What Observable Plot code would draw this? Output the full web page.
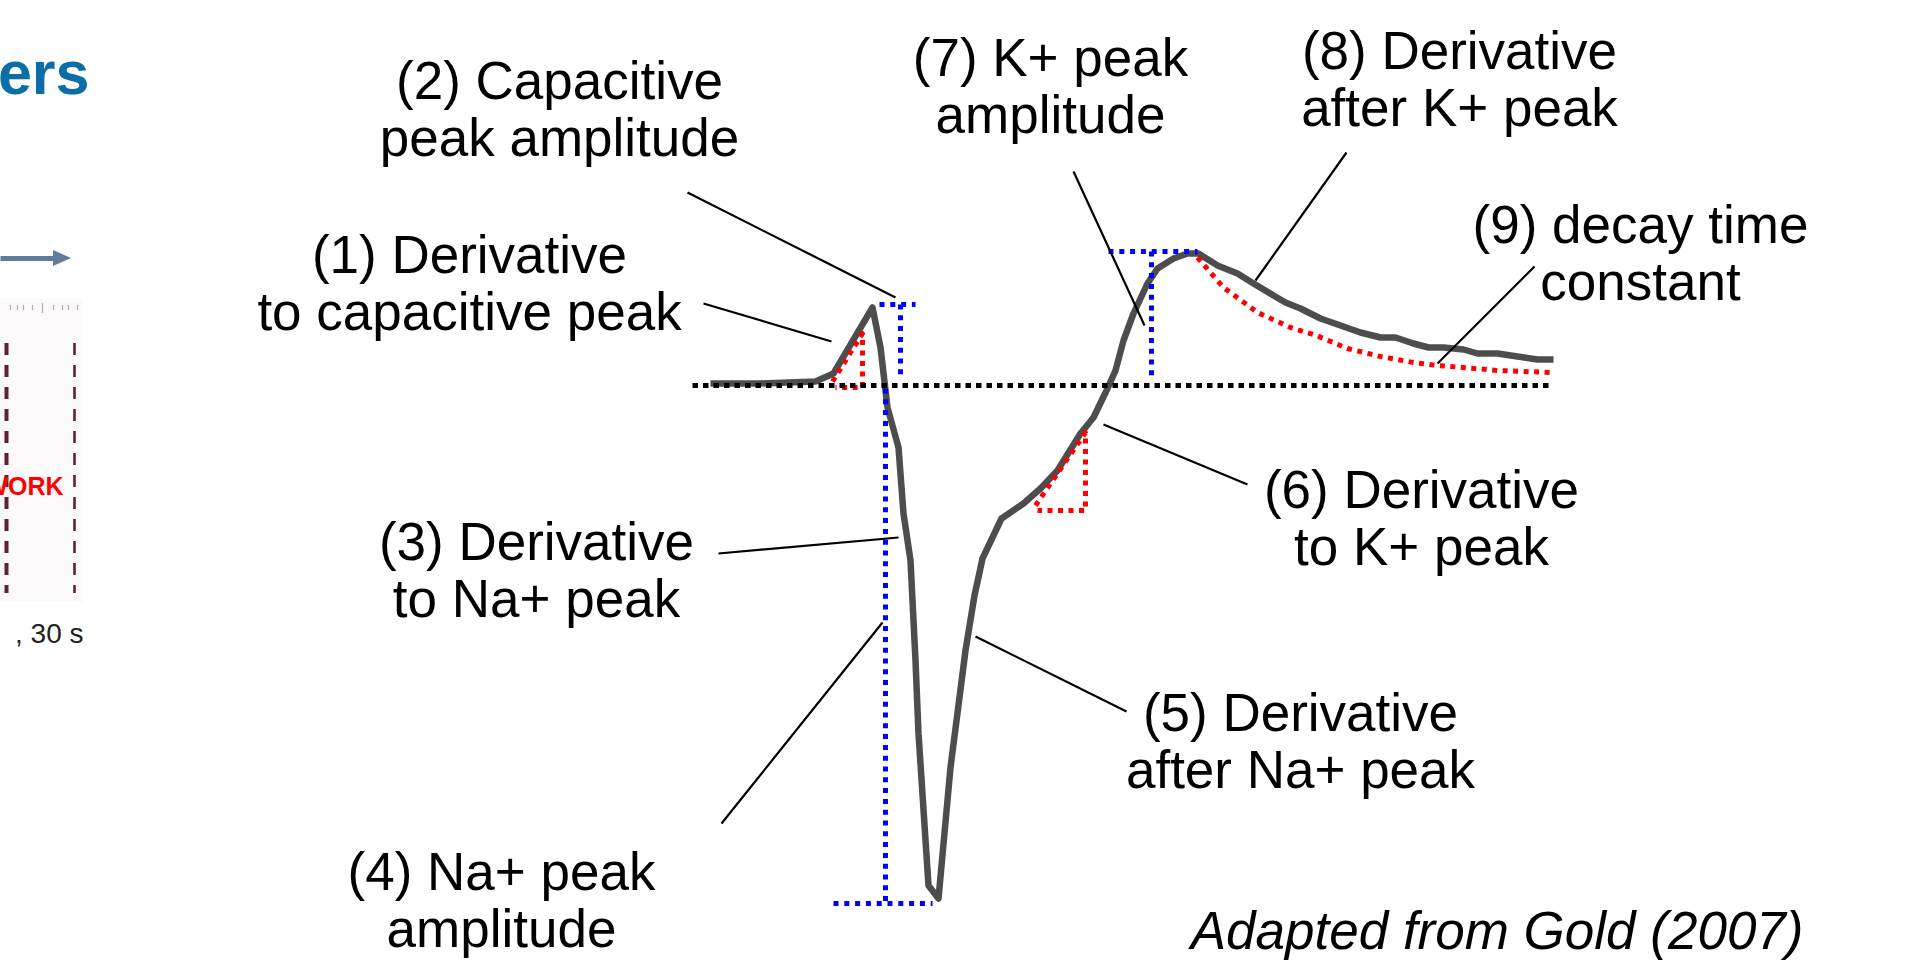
<!DOCTYPE html>
<html>
<head>
<meta charset="utf-8">
<script src="https://cdn.jsdelivr.net/npm/d3@7"></script>
<script src="https://cdn.jsdelivr.net/npm/@observablehq/plot@0.6"></script>
<style>
html, body { margin: 0; padding: 0; background: #fff; }
#chart svg { display: block; }
</style>
</head>
<body>
<div id="chart"></div>
<script>
// ---------- Data (time in ms, current in pA) ----------
const traceTime = [0.00, 0.50, 1.05, 1.23, 1.62, 1.70, 1.77, 1.88, 1.93, 2.00, 2.05, 2.08, 2.18, 2.28,
  2.40, 2.55, 2.64, 2.72, 2.91, 3.13, 3.30, 3.47, 3.70, 3.83, 3.97, 4.05, 4.13, 4.23, 4.37, 4.47, 4.63,
  4.77, 4.88, 5.07, 5.27, 5.43, 5.63, 5.75, 5.90, 6.10, 6.30, 6.50, 6.70, 6.85, 7.03, 7.18, 7.33, 7.53,
  7.67, 7.87, 8.07, 8.27, 8.43];
const traceCurrent = [4, 4, 8, 24, 156, 76, -44, -124, -256, -350, -550, -696, -1000, -1026,
  -764, -530, -420, -346, -266, -236, -206, -170, -96, -64, -6, 30, 90, 144, 204, 234, 254,
  264, 264, 240, 224, 204, 180, 166, 154, 134, 120, 106, 96, 96, 84, 76, 76, 72,
  64, 64, 58, 52, 52];

// exponential decay fit after the K+ peak
const fitTime = [4.87, 5.13, 5.47, 5.80, 6.06, 6.37, 6.70, 7.03, 7.27, 7.53, 7.87, 8.42];
const fitCurrent = [256, 196, 146, 116, 100, 74, 58, 46, 40, 36, 30, 26];

// slope triangles (derivatives)
const capSlopeTime = [1.22, 1.52, 1.52, 1.25];
const capSlopeCurrent = [8, 104, -4, -4];
const kSlopeTime = [3.25, 3.75, 3.75, 3.27];
const kSlopeCurrent = [-240, -94, -250, -250];

// amplitude markers (blue): segment start / end
const ampT1 = [1.69, 1.90, 1.75, 1.23, 3.98, 4.41];
const ampI1 = [162, 162, -6, -1036, 268, 268];
const ampT2 = [2.05, 1.90, 1.75, 2.22, 4.87, 4.41];
const ampI2 = [162, 16, -1034, -1036, 268, 20];

// zero-current baseline
const baselineTime = [-0.18, 8.38];
const baselineCurrent = [0, 0];

// labels
const labelText = [
  "(1) Derivative\nto capacitive peak",
  "(2) Capacitive\npeak amplitude",
  "(3) Derivative\nto Na+ peak",
  "(4) Na+ peak\namplitude",
  "(5) Derivative\nafter Na+ peak",
  "(6) Derivative\nto K+ peak",
  "(7) K+ peak\namplitude",
  "(8) Derivative\nafter K+ peak",
  "(9) decay time\nconstant"
];
const labelTime = [-2.41, -1.51, -1.74, -2.09, 5.90, 7.11, 3.40, 7.49, 9.30];
const labelCurrent = [306, 654, -268, -928, -610, -164, 700, 714, 366];

// leader lines from labels to features
const leaderT1 = [-0.07, -0.23, 0.08, 0.11, 2.65, 3.93, 3.63, 6.36, 8.24];
const leaderI1 = [164, 386, -336, -876, -502, -78, 428, 466, 238];
const leaderT2 = [1.21, 1.85, 1.88, 1.72, 4.16, 5.37, 4.34, 5.45, 7.27];
const leaderI2 = [88, 176, -304, -474, -652, -198, 120, 210, 44];

const caption = "Adapted from Gold (2007)";

// fragment of the neighbouring slide content (cropped on the left)
const fragTitle = "ers";
const fragTitleAt = [-6.21, 670];
const fragArrowTime = [-7.10, -6.56];
const fragArrowCurrent = [254, 254];
const fragHeadTime = [-6.57, -6.39];
const fragHeadLow = [238, 254];
const fragHeadHigh = [270, 254];
const fragPanelTime = [-7.10, -6.27];
const fragPanelCurrent = [174, -434];
const fragTickTime = [-7.00, -6.93, -6.87, -6.78, -6.68, -6.57, -6.48, -6.42, -6.33];
const fragTickTop = [160, 160, 160, 160, 164, 160, 160, 160, 160];
const fragTickBottom = [150, 150, 150, 150, 144, 150, 150, 150, 150];
const fragRasterTime = [-7.04, -6.36];
const fragRasterTop = [84, 84];
const fragRasterBottom = [-416, -416];
const fragWord = "WORK";
const fragWordAt = [-6.47, -184];
const fragNote = ", 30 s";
const fragNoteAt = [-6.27, -476];

// ---------- Build tables ----------
const trace = traceTime.map((t, k) => ({t, i: traceCurrent[k]}));
const fit = fitTime.map((t, k) => ({t, i: fitCurrent[k]}));
const capSlope = capSlopeTime.map((t, k) => ({t, i: capSlopeCurrent[k]}));
const kSlope = kSlopeTime.map((t, k) => ({t, i: kSlopeCurrent[k]}));
const amps = ampT1.map((t, k) => ({t1: t, i1: ampI1[k], t2: ampT2[k], i2: ampI2[k]}));
const baseline = baselineTime.map((t, k) => ({t, i: baselineCurrent[k]}));
const labels = labelText.map((s, k) => ({s, t: labelTime[k], i: labelCurrent[k]}));
const leaders = leaderT1.map((t, k) => ({t1: t, i1: leaderI1[k], t2: leaderT2[k], i2: leaderI2[k]}));
const head = fragHeadTime.map((t, k) => ({t, lo: fragHeadLow[k], hi: fragHeadHigh[k]}));
const ticks = fragTickTime.map((t, k) => ({t, a: fragTickTop[k], b: fragTickBottom[k]}));
const rasters = fragRasterTime.map((t, k) => ({t, a: fragRasterTop[k], b: fragRasterBottom[k], w: k === 0 ? 4 : 2.6}));

const FONT = "'Liberation Sans', Arial, Helvetica, sans-serif";

const chart = Plot.plot({
  width: 1913,
  height: 967,
  margin: 0,
  x: {domain: [-7.10, 12.03], axis: null},
  y: {domain: [-1164, 770], axis: null},
  style: {background: "#ffffff", fontFamily: FONT},
  marks: [
    // left fragment
    Plot.rect([0], {x1: () => fragPanelTime[0], x2: () => fragPanelTime[1], y1: () => fragPanelCurrent[0], y2: () => fragPanelCurrent[1], fill: "#fbf9f9"}),
    Plot.ruleX(ticks, {x: "t", y1: "a", y2: "b", stroke: "#b5b0b0", strokeWidth: 1.2}),
    Plot.ruleX(rasters, {x: "t", y1: "a", y2: "b", stroke: "#5a2434", strokeWidth: "w", strokeDasharray: "12,10"}),
    Plot.text([fragTitle], {x: () => fragTitleAt[0], y: () => fragTitleAt[1], text: d => d, textAnchor: "end", lineAnchor: "top", fontSize: 61, fontWeight: "bold", fill: "#0b6ea6", fontFamily: FONT}),
    Plot.line(fragArrowTime.map((t, k) => ({t, i: fragArrowCurrent[k]})), {x: "t", y: "i", stroke: "#627b9a", strokeWidth: 5, strokeLinecap: "butt"}),
    Plot.areaY(head, {x: "t", y1: "lo", y2: "hi", fill: "#627b9a"}),
    Plot.text([fragWord], {x: () => fragWordAt[0], y: () => fragWordAt[1], text: d => d, textAnchor: "end", lineAnchor: "top", fontSize: 25, fontWeight: "bold", fill: "#ff0000", fontFamily: FONT}),
    Plot.text([fragNote], {x: () => fragNoteAt[0], y: () => fragNoteAt[1], text: d => d, textAnchor: "end", lineAnchor: "top", fontSize: 28, fill: "#222222", fontFamily: FONT}),

    // current trace
    Plot.line(trace, {x: "t", y: "i", stroke: "#4d4d4d", strokeWidth: 6.5, strokeLinecap: "butt", strokeLinejoin: "round"}),
    // decay fit
    Plot.line(fit, {x: "t", y: "i", stroke: "#ff0000", strokeWidth: 5, strokeDasharray: "5,5.5", strokeLinecap: "butt"}),
    // slope triangles
    Plot.line(capSlope, {x: "t", y: "i", stroke: "#ff0000", strokeWidth: 5, strokeDasharray: "5,5.5", strokeLinecap: "butt"}),
    Plot.line(kSlope, {x: "t", y: "i", stroke: "#ff0000", strokeWidth: 5, strokeDasharray: "5,5.5", strokeLinecap: "butt"}),
    // amplitude markers
    Plot.link(amps, {x1: "t1", y1: "i1", x2: "t2", y2: "i2", stroke: "#0000ff", strokeWidth: 5, strokeDasharray: "5,5.8"}),
    // baseline
    Plot.line(baseline, {x: "t", y: "i", stroke: "#000000", strokeWidth: 5, strokeDasharray: "5.5,5", strokeLinecap: "butt"}),
    // leader lines
    Plot.link(leaders, {x1: "t1", y1: "i1", x2: "t2", y2: "i2", stroke: "#000000", strokeWidth: 2.2}),
    // labels
    Plot.text(labels, {x: "t", y: "i", text: "s", fontSize: 53, lineHeight: 1.08, lineAnchor: "top", textAnchor: "middle", fill: "#000000", fontFamily: FONT}),
    // caption
    Plot.text([caption], {frameAnchor: "bottom-right", dx: -110, dy: -56, text: d => d, textAnchor: "end", lineAnchor: "top", fontSize: 53, fontStyle: "italic", fill: "#000000", fontFamily: FONT})
  ]
});
document.getElementById("chart").appendChild(chart);
</script>
</body>
</html>
